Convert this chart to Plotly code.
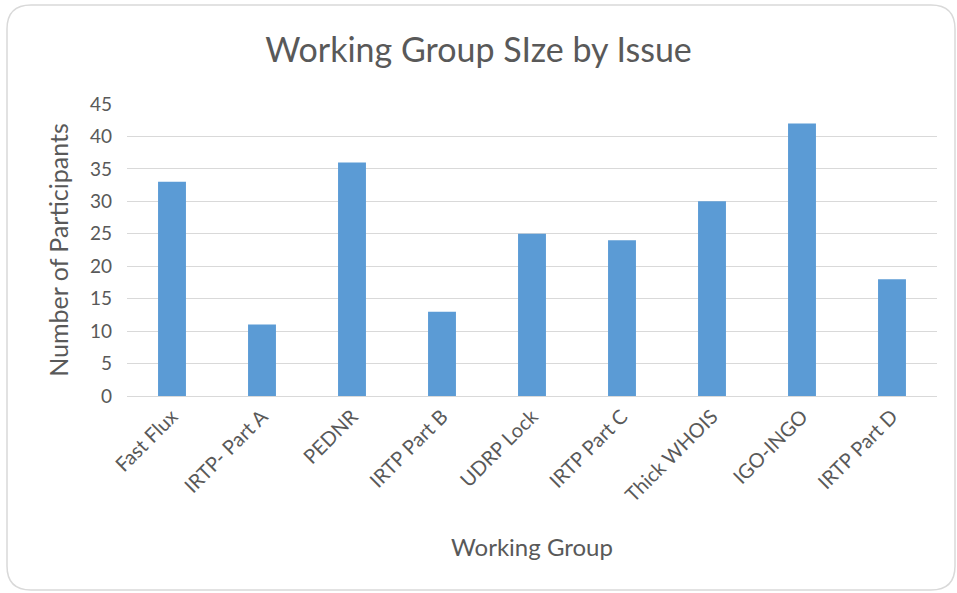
import plotly.graph_objects as go

categories = ["Fast Flux", "IRTP- Part A", "PEDNR", "IRTP Part B", "UDRP Lock",
              "IRTP Part C", "Thick WHOIS", "IGO-INGO", "IRTP Part D"]
participants = [33, 11, 36, 13, 25, 24, 30, 42, 18]
y_ticks = [0, 5, 10, 15, 20, 25, 30, 35, 40, 45]

W, H = 957, 593
L, R, T, B = 127, 20, 104, 197
pw, ph = W - L - R, H - T - B

def px(x):
    return (x - L) / pw

def py(y):
    return (H - B - y) / ph

FONT = "Lato, Carlito, Calibri, sans-serif"
GREY = "#595959"

fig = go.Figure(go.Bar(x=categories, y=participants, marker_color="#5b9bd5",
                       marker_line_width=0))

# rounded chart border
x0, x1, y0, y1, r = 7, 955, 5, 590, 24
path = (f"M {px(x0 + r)},{py(y0)} L {px(x1 - r)},{py(y0)} "
        f"Q {px(x1)},{py(y0)} {px(x1)},{py(y0 + r)} "
        f"L {px(x1)},{py(y1 - r)} Q {px(x1)},{py(y1)} {px(x1 - r)},{py(y1)} "
        f"L {px(x0 + r)},{py(y1)} Q {px(x0)},{py(y1)} {px(x0)},{py(y1 - r)} "
        f"L {px(x0)},{py(y0 + r)} Q {px(x0)},{py(y0)} {px(x0 + r)},{py(y0)} Z")

fig.update_layout(
    width=W, height=H,
    margin=dict(l=L, r=R, t=T, b=B),
    paper_bgcolor="white", plot_bgcolor="white",
    bargap=0.69,
    font=dict(family=FONT, color=GREY),
    title=dict(text="Working Group SIze by Issue", x=0.5, xanchor="center",
               y=1 - 50 / H, yanchor="middle",
               font=dict(size=34, color=GREY, family=FONT)),
    shapes=[dict(type="path", path=path, xref="paper", yref="paper",
                 line=dict(color="#d9d9d9", width=1.5), layer="below")],
    showlegend=False,
)
fig.update_xaxes(
    tickangle=-45, tickfont=dict(size=20, color=GREY),
    title=dict(text="Working Group", font=dict(size=24, color=GREY), standoff=34),
    showline=True, linecolor="#d9d9d9", linewidth=1, showgrid=False,
    ticks="",
)
fig.update_yaxes(
    range=[0, 45], tickvals=y_ticks, tickfont=dict(size=19, color=GREY),
    title=dict(text="Number of Participants", font=dict(size=25, color=GREY), standoff=14),
    showgrid=True, gridcolor="#d9d9d9", gridwidth=1, zeroline=False,
    showline=False, ticklabelstandoff=14,
)
fig.write_html("out.html", config={"displayModeBar": False},
               post_script="document.body.style.margin='0';document.body.style.overflow='hidden';")
